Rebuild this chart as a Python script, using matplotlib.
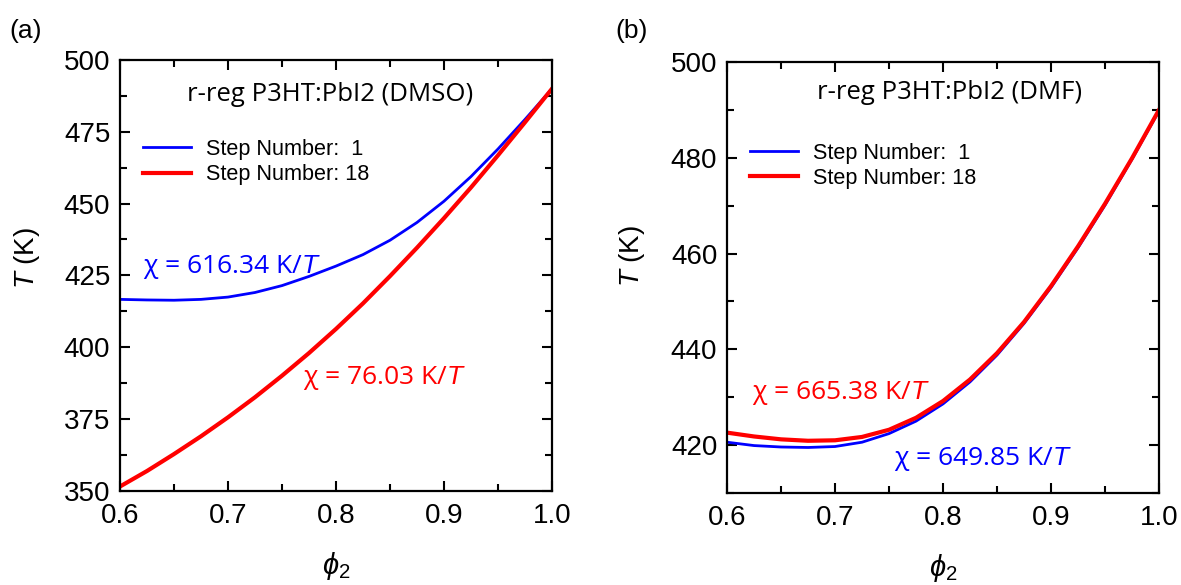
import matplotlib as mpl
mpl.use("agg")
import matplotlib.pyplot as plt
from matplotlib.ticker import MultipleLocator

plt.rcParams['font.family'] = ['Liberation Sans', 'DejaVu Sans']
plt.rcParams['mathtext.fontset'] = 'custom'
plt.rcParams['mathtext.it'] = 'Liberation Sans:italic'
plt.rcParams['mathtext.rm'] = 'Liberation Sans'

# volume fraction grid
phi2 = [0.600, 0.625, 0.650, 0.675, 0.700, 0.725, 0.750, 0.775, 0.800,
        0.825, 0.850, 0.875, 0.900, 0.925, 0.950, 0.975, 1.000]

# (a) DMSO
dmso_step1 = [416.6, 416.4, 416.3, 416.6, 417.4, 419.0, 421.4, 424.6, 428.2,
              432.2, 437.2, 443.4, 450.8, 459.4, 469.0, 479.3, 490.0]
dmso_step18 = [351.4, 356.8, 362.7, 368.9, 375.5, 382.5, 390.0, 397.9, 406.3,
               415.2, 424.7, 434.6, 444.9, 455.6, 466.8, 478.3, 490.0]

# (b) DMF
dmf_step1 = [420.6, 419.9, 419.6, 419.5, 419.7, 420.6, 422.4, 425.0, 428.6,
             433.2, 438.8, 445.4, 452.9, 461.2, 470.1, 479.7, 489.8]
dmf_step18 = [422.6, 421.8, 421.2, 420.9, 421.0, 421.7, 423.2, 425.7, 429.2,
              433.7, 439.2, 445.7, 453.2, 461.5, 470.4, 479.9, 490.0]

labels = ["Step Number:  1", "Step Number: 18"]

fig = plt.figure(figsize=(11.81, 5.85), dpi=100)
ax1 = fig.add_axes([0.1016, 0.1615, 0.3658, 0.7359])
ax2 = fig.add_axes([0.6156, 0.1573, 0.3658, 0.7368])

title_font = ['Open Sans', 'DejaVu Sans']


def style(ax, ylim, major, minor):
    ax.set_xlim(0.6, 1.0)
    ax.set_ylim(*ylim)
    ax.xaxis.set_major_locator(MultipleLocator(0.1))
    ax.xaxis.set_minor_locator(MultipleLocator(0.05))
    ax.yaxis.set_major_locator(MultipleLocator(major))
    ax.yaxis.set_minor_locator(MultipleLocator(minor))
    ax.tick_params(which='both', direction='in', top=True, right=True, width=1.5)
    ax.tick_params(which='major', length=7, labelsize=20)
    ax.tick_params(which='minor', length=5)
    ax.tick_params(axis='x', pad=9)
    ax.tick_params(axis='y', pad=7)
    for s in ax.spines.values():
        s.set_linewidth(1.6)
    ax.xaxis.set_major_formatter(mpl.ticker.FormatStrFormatter('%.1f'))
    ax.set_xlabel(r'$\phi_2$', fontsize=21)
    ax.xaxis.set_label_coords(0.5, -0.138)
    ax.set_ylabel(r'$T$ (K)', fontsize=20)


def add_legend(ax, y):
    ax.legend(loc='upper left', bbox_to_anchor=(0.019, y), frameon=False,
              fontsize=15.6, handlelength=2.2, handletextpad=0.7,
              labelspacing=0.2, borderaxespad=0.3)


# panel (a)
ax1.plot(phi2, dmso_step1, color='#0000ff', lw=2.0, label=labels[0])
ax1.plot(phi2, dmso_step18, color='#ff0000', lw=3.0, label=labels[1])
style(ax1, (350, 500), 25, 12.5)
ax1.yaxis.set_label_coords(-0.18, 0.54)
ax1.text(0.486, 0.919, 'r-reg P3HT:PbI2 (DMSO)', transform=ax1.transAxes,
         ha='center', va='center', fontsize=18.5, family=title_font)
add_legend(ax1, 0.852)
ax1.text(0.053, 0.52, u'\u03c7 = 616.34 K/$\\mathit{T}$', transform=ax1.transAxes,
         color='#0000ff', fontsize=19, family=title_font, va='center')
ax1.text(0.424, 0.262, u'\u03c7 = 76.03 K/$\\mathit{T}$', transform=ax1.transAxes,
         color='#ff0000', fontsize=19, family=title_font, va='center')
fig.text(26 / 1181, 1 - 31 / 585, '(a)', fontsize=19, ha='center', va='center')

# panel (b)
ax2.plot(phi2, dmf_step1, color='#0000ff', lw=2.0, label=labels[0])
ax2.plot(phi2, dmf_step18, color='#ff0000', lw=3.0, label=labels[1])
style(ax2, (410, 500), 20, 10)
ax2.yaxis.set_label_coords(-0.185, 0.55)
ax2.text(0.516, 0.93, 'r-reg P3HT:PbI2 (DMF)', transform=ax2.transAxes,
         ha='center', va='center', fontsize=18.5, family=title_font)
add_legend(ax2, 0.848)
ax2.text(0.058, 0.233, u'\u03c7 = 665.38 K/$\\mathit{T}$', transform=ax2.transAxes,
         color='#ff0000', fontsize=19, family=title_font, va='center')
ax2.text(0.387, 0.078, u'\u03c7 = 649.85 K/$\\mathit{T}$', transform=ax2.transAxes,
         color='#0000ff', fontsize=19, family=title_font, va='center')
fig.text(632 / 1181, 1 - 31 / 585, '(b)', fontsize=19, ha='center', va='center')

plt.savefig('out.png', dpi=100)
